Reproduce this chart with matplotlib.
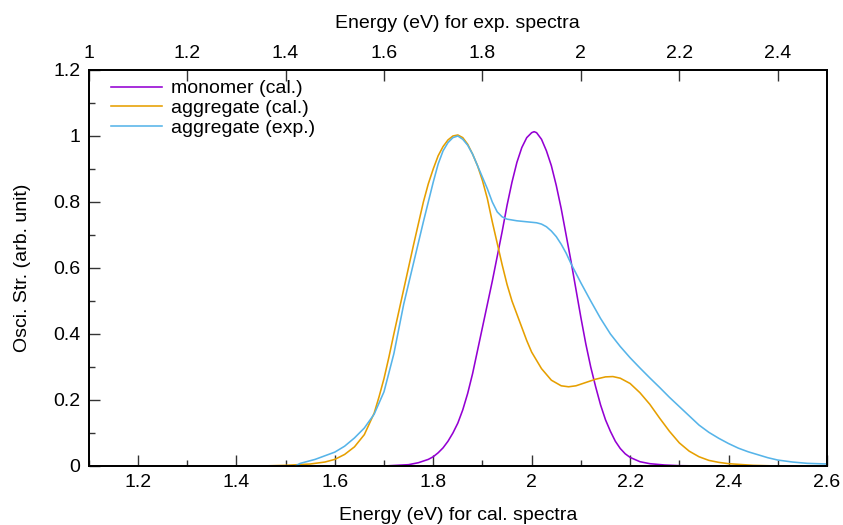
#!/usr/bin/env python3
"""
Absorption spectra: calculated monomer/aggregate vs experimental aggregate.
"""

import numpy as np
import matplotlib
matplotlib.use("Agg")
import matplotlib.pyplot as plt
from matplotlib.ticker import MultipleLocator

plt.rcParams["font.family"] = ["Liberation Sans", "DejaVu Sans"]

# ── data (energies in eV) ──
mono_e = [1.10, 1.70, 1.75, 1.77, 1.79, 1.80, 1.81, 1.82, 1.83, 1.84, 1.85, 1.86, 1.87,
          1.88, 1.89, 1.90, 1.91, 1.92, 1.93, 1.94, 1.95, 1.96, 1.97, 1.98, 1.99, 2.00,
          2.005, 2.01, 2.02, 2.03, 2.04, 2.05, 2.06, 2.07, 2.08, 2.09, 2.10, 2.11, 2.12,
          2.13, 2.14, 2.15, 2.16, 2.17, 2.18, 2.19, 2.20, 2.22, 2.24, 2.27, 2.30, 2.35, 2.60]
mono_f = [0.0, 0.0, 0.004, 0.01, 0.02, 0.028, 0.04, 0.055, 0.075, 0.10, 0.13, 0.17, 0.22,
          0.28, 0.35, 0.42, 0.49, 0.56, 0.635, 0.71, 0.79, 0.86, 0.92, 0.965, 0.995, 1.01,
          1.013, 1.01, 0.99, 0.955, 0.91, 0.85, 0.78, 0.70, 0.62, 0.535, 0.45, 0.37, 0.30,
          0.24, 0.185, 0.14, 0.105, 0.075, 0.053, 0.037, 0.026, 0.013, 0.007, 0.003, 0.001, 0.0, 0.0]

aggr_e = [1.10, 1.45, 1.50, 1.55, 1.58, 1.60, 1.62, 1.64, 1.66, 1.68, 1.69, 1.70, 1.71,
          1.72, 1.74, 1.76, 1.78, 1.79, 1.80, 1.81, 1.82, 1.83, 1.84, 1.85, 1.86, 1.87,
          1.88, 1.89, 1.90, 1.91, 1.92, 1.93, 1.94, 1.95, 1.96, 1.97, 1.98, 1.99, 2.00,
          2.02, 2.04, 2.06, 2.075, 2.09, 2.11, 2.13, 2.15, 2.165, 2.18, 2.20, 2.22, 2.24,
          2.26, 2.28, 2.30, 2.32, 2.34, 2.36, 2.38, 2.40, 2.45, 2.50, 2.60]
aggr_f = [0.0, 0.0, 0.002, 0.006, 0.012, 0.02, 0.035, 0.058, 0.095, 0.16, 0.21, 0.265, 0.33,
          0.40, 0.535, 0.67, 0.80, 0.855, 0.90, 0.94, 0.968, 0.988, 1.0, 1.003, 0.995, 0.975,
          0.945, 0.91, 0.865, 0.81, 0.74, 0.675, 0.61, 0.55, 0.50, 0.46, 0.42, 0.38, 0.345,
          0.295, 0.26, 0.243, 0.240, 0.243, 0.253, 0.263, 0.27, 0.271, 0.266, 0.25, 0.222, 0.187,
          0.145, 0.105, 0.07, 0.045, 0.028, 0.017, 0.011, 0.007, 0.002, 0.0, 0.0]

# experimental spectrum, energies on the top (exp.) axis
exp_e = [1.42, 1.43, 1.46, 1.50, 1.52, 1.54, 1.56, 1.58, 1.60, 1.62, 1.64, 1.66, 1.68,
         1.69, 1.70, 1.71, 1.72, 1.73, 1.74, 1.75, 1.76, 1.77, 1.78, 1.79, 1.80, 1.81,
         1.82, 1.83, 1.84, 1.85, 1.87, 1.89, 1.91, 1.92, 1.93, 1.94, 1.95, 1.96, 1.97,
         1.98, 2.00, 2.02, 2.04, 2.06, 2.08, 2.10, 2.12, 2.14, 2.16, 2.18, 2.20, 2.22,
         2.24, 2.26, 2.28, 2.30, 2.32, 2.34, 2.36, 2.38, 2.40, 2.43, 2.46, 2.50]
exp_f = [0.0, 0.008, 0.02, 0.042, 0.06, 0.085, 0.115, 0.157, 0.225, 0.34, 0.49, 0.615, 0.74,
         0.80, 0.86, 0.915, 0.955, 0.98, 0.995, 1.0, 0.99, 0.972, 0.945, 0.91, 0.875, 0.84,
         0.80, 0.77, 0.755, 0.748, 0.743, 0.74, 0.737, 0.733, 0.725, 0.712, 0.695, 0.672, 0.645,
         0.613, 0.555, 0.50, 0.447, 0.40, 0.362, 0.328, 0.297, 0.267, 0.238, 0.208, 0.18, 0.152,
         0.124, 0.102, 0.084, 0.068, 0.054, 0.043, 0.034, 0.025, 0.018, 0.012, 0.008, 0.006]

COLORS = {"mono": "#9400d3", "aggr": "#e69f00", "exp": "#56b4e9"}
LW = 1.15


def main():
    fig = plt.figure(figsize=(8.43, 5.25), dpi=100)
    ax = fig.add_axes([0.1052, 0.1124, 0.8758, 0.7543])

    ax.plot(mono_e, mono_f, color=COLORS["mono"], lw=LW, label="monomer (cal.)")
    ax.plot(aggr_e, aggr_f, color=COLORS["aggr"], lw=LW, label="aggregate (cal.)")
    # proxy so the exp. line shows up in the same legend
    ax.plot([], [], color=COLORS["exp"], lw=LW, label="aggregate (exp.)")

    ax.set_xlim(1.1, 2.6)
    ax.set_ylim(0, 1.2)
    ax.xaxis.set_major_locator(MultipleLocator(0.2))
    ax.xaxis.set_minor_locator(MultipleLocator(0.1))
    ax.yaxis.set_major_locator(MultipleLocator(0.2))
    ax.yaxis.set_minor_locator(MultipleLocator(0.1))
    fmt = lambda v, _: ("%g" % round(v, 2))
    ax.xaxis.set_major_formatter(fmt)
    ax.yaxis.set_major_formatter(fmt)
    ax.tick_params(which="both", direction="in", top=False, right=False,
                   labelsize=14, width=1.0, color="#333333")
    ax.tick_params(which="major", length=8, pad=6)
    ax.tick_params(which="minor", length=4)
    ax.tick_params(axis="y", pad=6)
    for sp in ax.spines.values():
        sp.set_linewidth(1.3)

    ax.set_xlabel("Energy (eV) for cal. spectra", fontsize=14, labelpad=11)
    ax.set_ylabel("Osci. Str. (arb. unit)", fontsize=14, labelpad=16)

    # top axis for the experimental spectrum
    ax2 = ax.twiny()
    ax2.plot(exp_e, exp_f, color=COLORS["exp"], lw=LW)
    ax2.set_xlim(1.0, 2.5)
    ax2.xaxis.set_major_locator(MultipleLocator(0.2))
    ax2.xaxis.set_major_formatter(fmt)
    ax2.tick_params(axis="x", direction="in", length=8, pad=6, labelsize=14,
                    width=1.0, color="#333333")
    ax2.set_xlabel("Energy (eV) for exp. spectra", fontsize=14, labelpad=12)
    for sp in ax2.spines.values():
        sp.set_linewidth(1.3)

    ax.legend(loc="upper left", frameon=False, fontsize=14, handlelength=2.6,
              handletextpad=0.45, labelspacing=0.12, borderaxespad=0.0,
              bbox_to_anchor=(0.02, 0.995))

    fig.savefig("out.png", dpi=100)
    plt.close(fig)


if __name__ == "__main__":
    main()
